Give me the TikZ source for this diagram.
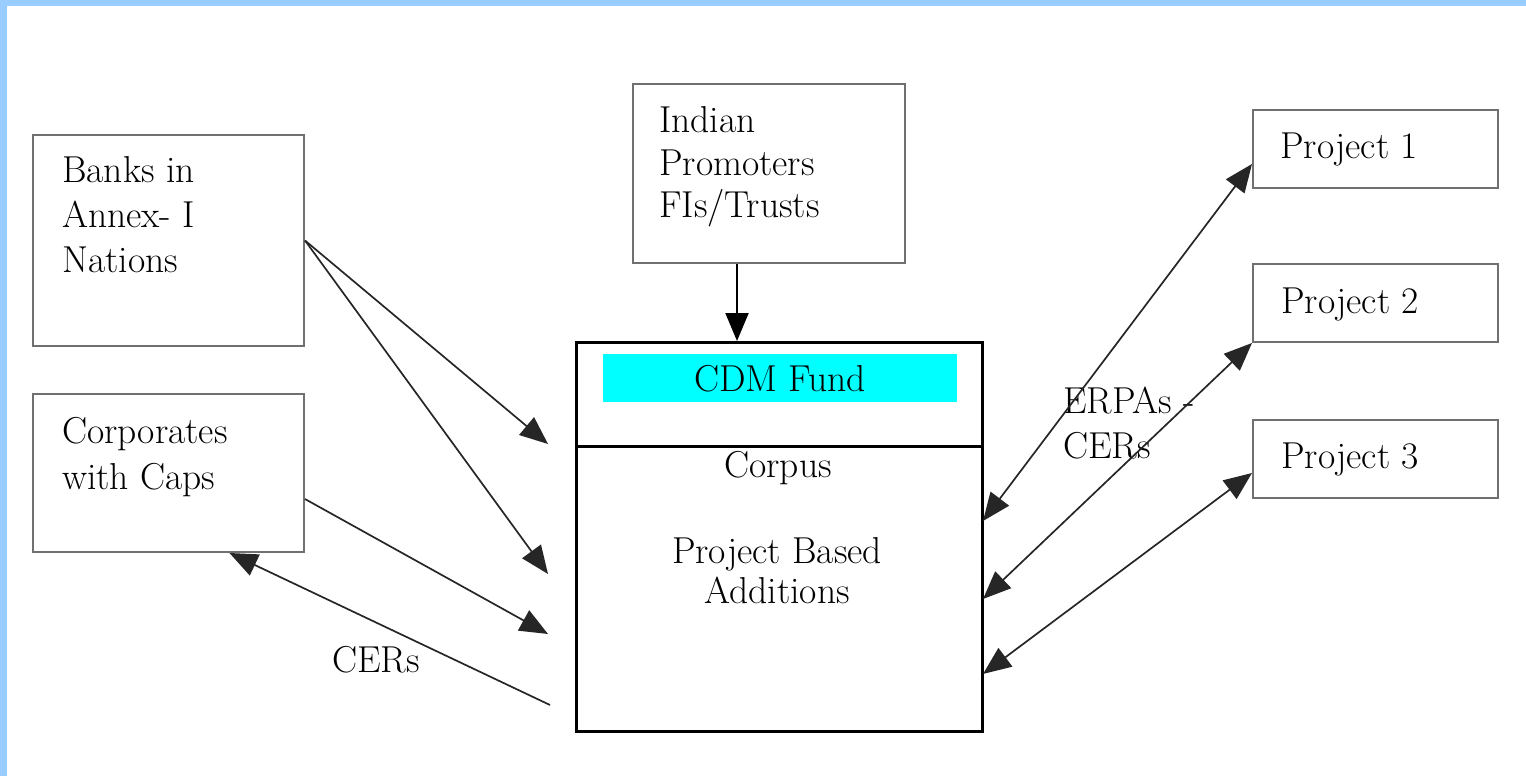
\documentclass[tikz,border=0pt]{standalone}
\usepackage{fontspec}
\usetikzlibrary{arrows.meta}
\definecolor{frameblue}{RGB}{153,204,255}
\definecolor{boxgray}{RGB}{112,112,112}
\definecolor{fundcyan}{RGB}{0,255,255}
\tikzset{
  box/.style={draw=boxgray, line width=2pt, anchor=north west, inner sep=0pt},
  txt/.style={anchor=base west, inner sep=0pt, font=\fontsize{37.5}{45}\selectfont},
  ctxt/.style={txt, anchor=base},
  fundtip/.tip={Triangle[length=28pt,width=23pt]},
  conn/.style={line width=1.7pt, draw=black!85, -{fundtip}},
  biconn/.style={line width=1.7pt, draw=black!85, {fundtip}-{fundtip}}
}
\begin{document}
\begin{tikzpicture}[x=1pt,y=-1pt]
\useasboundingbox (0,0) rectangle (1526,776);
% frame bands along the top and left edges
\fill[frameblue] (0,0) rectangle (1526,6);
\fill[frameblue] (0,0) rectangle (7,776);

% source boxes
\node[box, minimum width=271pt, minimum height=211pt] (banks) at (32,134) {};
\node[box, minimum width=271pt, minimum height=158pt] (corp) at (32,393) {};
\node[box, minimum width=272pt, minimum height=179pt] (indian) at (632,83) {};

% project boxes
\node[box, minimum width=245pt, minimum height=78pt] (p1) at (1252,109) {};
\node[box, minimum width=245pt, minimum height=78pt] (p2) at (1252,263) {};
\node[box, minimum width=245pt, minimum height=78pt] (p3) at (1252,419) {};

% fund box with its title bar and divider
\node[draw=black, line width=3pt, anchor=north west, inner sep=0pt,
      minimum width=406pt, minimum height=389pt] (fund) at (575,341) {};
\node[fill=fundcyan, anchor=north west, inner sep=0pt,
      minimum width=354pt, minimum height=48pt] (bar) at (603,354) {};
\draw[line width=3pt] (fund.west |- 0,446) -- (fund.east |- 0,446);

% box texts
\node[txt] (banks1) at (62,182) {Banks in};
\node[txt] (banks2) at (62,227) {Annex- I};
\node[txt] (banks3) at (62,272) {Nations};
\node[txt] (corp1) at (62,443) {Corporates};
\node[txt] (corp2) at (62,489) {with Caps};
\node[txt] (ind1) at (659,132) {Indian};
\node[txt] (ind2) at (659,175) {Promoters};
\node[txt] (ind3) at (659,217) {FIs/Trusts};
\node[txt] (p1t) at (1280,158) {Project 1};
\node[txt] (p2t) at (1281,313) {Project 2};
\node[txt] (p3t) at (1281,468) {Project 3};
\node[ctxt] (fundt) at (780,391) {CDM Fund};
\node[ctxt] (corpus) at (778,477) {Corpus};
\node[ctxt] (pba1) at (777,563) {Project Based};
\node[ctxt] (pba2) at (777,603) {Additions};

% connector labels
\node[txt] (erpa1) at (1063,413) {ERPAs -};
\node[txt] (erpa2) at (1063,458) {CERs};
\node[txt] (cers) at (332,672) {CERs};

% free ends of the connectors
\coordinate (bankend1) at (548,444);
\coordinate (bankend2) at (548,574);
\coordinate (corpend) at (548,634);
\coordinate (cerstart) at (550,705);
\coordinate (f1) at (983,521);
\coordinate (f2) at (983,599);
\coordinate (f3) at (983,674);

% connectors
\coordinate (indout) at ([xshift=-32pt]indian.south);
\draw[line width=2pt, -{fundtip}] (indout) -- (indout |- fund.north);
\draw[conn] (banks.east) -- (bankend1);
\draw[conn] (banks.east) -- (bankend2);
\draw[conn] ([yshift=-26pt]corp.east) -- (corpend);
\draw[conn] (cerstart) -- ([xshift=61pt]corp.south);
\draw[biconn] (f1) -- ([yshift=-15pt]p1.west);
\draw[biconn] (f2) -- (p2.south west);
\draw[biconn] (f3) -- ([yshift=-14pt]p3.west);
\end{tikzpicture}
\end{document}
